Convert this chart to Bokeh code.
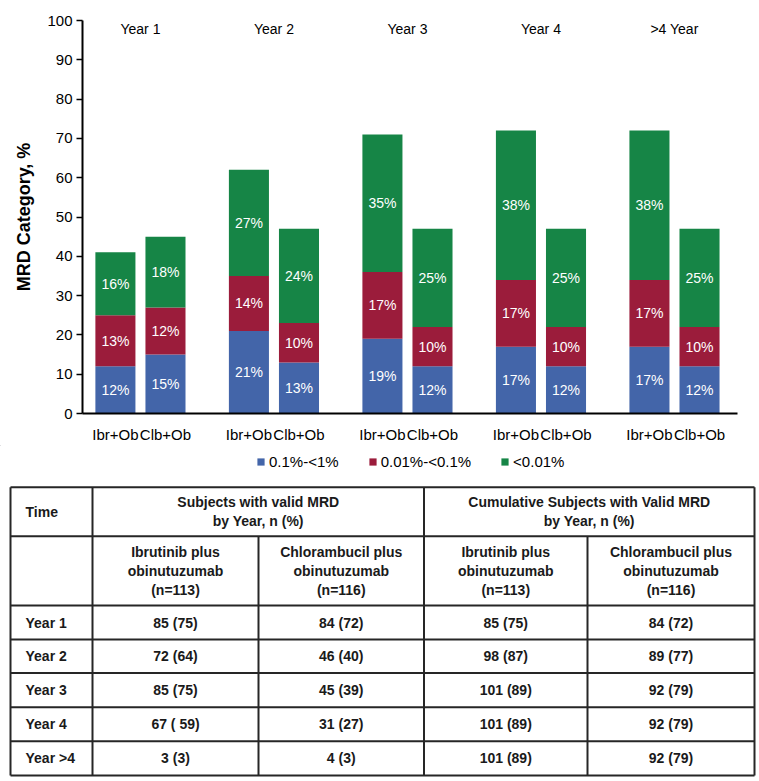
import numpy as np
from bokeh.plotting import figure
from bokeh.models import (ColumnDataSource, Range1d, FixedTicker, Legend, LegendItem)
from bokeh.transform import dodge
from bokeh.core.properties import value
from bokeh.embed import file_html
from bokeh.resources import INLINE

# ---------------- data ----------------
years = ["Year 1", "Year 2", "Year 3", "Year 4", ">4 Year"]
arms = ["Ibr+Ob", "Clb+Ob"]
categories = ["0.1%-<1%", "0.01%-<0.1%", "<0.01%"]

ibr_low = [12, 21, 19, 17, 17]    # 0.1%-<1%
ibr_mid = [13, 14, 17, 17, 17]    # 0.01%-<0.1%
ibr_high = [16, 27, 35, 38, 38]   # <0.01%
clb_low = [15, 13, 12, 12, 12]
clb_mid = [12, 10, 10, 10, 10]
clb_high = [18, 24, 25, 25, 25]

y_ticks = [0, 10, 20, 30, 40, 50, 60, 70, 80, 90, 100]

table_time_header = "Time"
table_group_headers = ["Subjects with valid MRD\nby Year, n (%)",
                       "Cumulative Subjects with Valid MRD\nby Year, n (%)"]
table_arm_headers = ["Ibrutinib plus\nobinutuzumab\n(n=113)",
                     "Chlorambucil plus\nobinutuzumab\n(n=116)",
                     "Ibrutinib plus\nobinutuzumab\n(n=113)",
                     "Chlorambucil plus\nobinutuzumab\n(n=116)"]
table_rows = ["Year 1", "Year 2", "Year 3", "Year 4", "Year >4"]
ibr_valid = ["85 (75)", "72 (64)", "85 (75)", "67 ( 59)", "3 (3)"]
clb_valid = ["84 (72)", "46 (40)", "45 (39)", "31 (27)", "4 (3)"]
ibr_cum = ["85 (75)", "98 (87)", "101 (89)", "101 (89)", "101 (89)"]
clb_cum = ["84 (72)", "89 (77)", "92 (79)", "92 (79)", "92 (79)"]

# ---------------- styles ----------------
COLORS = ["#4365A9", "#9B1C3B", "#168546"]
FONT = "Liberation Sans"
W = 759
CHART_H = 445
TABLE_H = 335
OFF = 0.1875   # dodge of each arm from group centre
BW = 0.30      # bar width (group units)

# ---------------- chart ----------------
p = figure(width=W, height=CHART_H, x_range=Range1d(-0.434, 4.472), y_range=Range1d(0, 100),
           output_backend="svg", toolbar_location=None,
           min_border_left=82, min_border_right=22, min_border_top=20, min_border_bottom=28)
p.outline_line_color = None
p.grid.visible = False

groups = list(range(len(years)))
src_ibr = ColumnDataSource(dict(x=groups, low=ibr_low, mid=ibr_mid, high=ibr_high))
src_clb = ColumnDataSource(dict(x=groups, low=clb_low, mid=clb_mid, high=clb_high))
stack = ["low", "mid", "high"]
r_ibr = p.vbar_stack(stack, x=dodge("x", -OFF), width=BW, color=COLORS, line_color=None, source=src_ibr)
r_clb = p.vbar_stack(stack, x=dodge("x", OFF), width=BW, color=COLORS, line_color=None, source=src_clb)

# percentage labels at segment centres
lx, ly, lt = [], [], []
for segs, off in (((ibr_low, ibr_mid, ibr_high), -OFF), ((clb_low, clb_mid, clb_high), OFF)):
    for g in groups:
        base = 0
        for seg in segs:
            v = seg[g]
            lx.append(g + off)
            ly.append(base + v / 2)
            lt.append(f"{v}%")
            base += v
p.text(x="x", y="y", text="t", source=ColumnDataSource(dict(x=lx, y=ly, t=lt)),
       text_color="white", text_font=value(FONT), text_font_size="14px",
       text_align="center", text_baseline="middle")

# year headers along the top
p.text(x="x", y=100, text="t", source=ColumnDataSource(dict(x=groups, t=years)),
       text_color="black", text_font=value(FONT), text_font_size="14px",
       text_align="center", text_baseline="top")

# axes
xa = p.xaxis[0]
xa.ticker = FixedTicker(ticks=[g + o for g in groups for o in (-OFF, OFF)])
overrides = {}
for g in groups:
    overrides[g - OFF] = arms[0]
    overrides[g + OFF] = arms[1]
xa.major_label_overrides = overrides
xa.major_tick_line_color = None
xa.minor_tick_line_color = None
xa.axis_line_width = 2
xa.axis_line_color = "black"
xa.major_label_text_font = FONT
xa.major_label_text_font_size = "15px"
xa.major_label_text_color = "black"
xa.major_label_standoff = 6

ya = p.yaxis[0]
ya.ticker = FixedTicker(ticks=y_ticks)
ya.major_tick_out = 6
ya.major_tick_in = 0
ya.major_tick_line_width = 1.5
ya.major_tick_line_color = "black"
ya.minor_tick_line_color = None
ya.axis_line_width = 2
ya.axis_line_color = "black"
ya.major_label_text_font = FONT
ya.major_label_text_font_size = "15px"
ya.major_label_text_color = "black"
ya.major_label_standoff = 4
ya.axis_label = "MRD Category, %"
ya.axis_label_text_font = FONT
ya.axis_label_text_font_style = "bold"
ya.axis_label_text_font_size = "18px"
ya.axis_label_text_color = "black"
ya.axis_label_standoff = 10

# ---------------- table (with the chart legend on top) ----------------
T_TOP = CHART_H
t = figure(width=W, height=TABLE_H, x_range=Range1d(0, W), y_range=Range1d(T_TOP + TABLE_H, T_TOP),
           output_backend="svg", toolbar_location=None, min_border=0,
           x_axis_location=None, y_axis_location=None)
t.outline_line_color = None
t.grid.visible = False

# legend swatches: zero-height bars that only carry the segment fill colours
swatches = [t.vbar(x=[0], top=[0], bottom=[0], width=1, fill_color=c, line_color=None) for c in COLORS]
legend = Legend(items=[LegendItem(label=c, renderers=[swatches[i]], index=0) for i, c in enumerate(categories)],
                orientation="horizontal", location=(256, 310),
                glyph_width=9, glyph_height=9, label_standoff=4, spacing=29,
                label_text_font=FONT, label_text_font_size="15px", label_text_color="black",
                margin=0, padding=5, border_line_color=None, background_fill_alpha=0)
t.add_layout(legend, "center")

col_edges = [10, 92, 258, 423.5, 587, 754]
row_edges = [486.7, 535.7, 605, 639, 672.5, 706.7, 740.7, 775]
LINE = "#262626"
TXT = "#1a1a1a"

sx0, sy0, sx1, sy1 = [], [], [], []
for y in row_edges:
    sx0.append(col_edges[0]); sx1.append(col_edges[-1]); sy0.append(y); sy1.append(y)
for i, x in enumerate(col_edges):
    top = row_edges[1] if i in (2, 4) else row_edges[0]
    sx0.append(x); sx1.append(x); sy0.append(top); sy1.append(row_edges[-1])
t.segment(x0=sx0, y0=sy0, x1=sx1, y1=sy1, line_color=LINE, line_width=2)

def mid(a, b):
    return (a + b) / 2

tx, ty, tt, ta = [], [], [], []
LEFT_PAD = 15
tx.append(col_edges[0] + LEFT_PAD); ty.append(mid(row_edges[0], row_edges[1])); tt.append(table_time_header); ta.append("left")
tx.append(mid(col_edges[1], col_edges[3])); ty.append(mid(row_edges[0], row_edges[1])); tt.append(table_group_headers[0]); ta.append("center")
tx.append(mid(col_edges[3], col_edges[5])); ty.append(mid(row_edges[0], row_edges[1])); tt.append(table_group_headers[1]); ta.append("center")
for c in range(4):
    tx.append(mid(col_edges[c + 1], col_edges[c + 2])); ty.append(mid(row_edges[1], row_edges[2]))
    tt.append(table_arm_headers[c]); ta.append("center")
cols = [ibr_valid, clb_valid, ibr_cum, clb_cum]
for r, name in enumerate(table_rows):
    yc = mid(row_edges[r + 2], row_edges[r + 3])
    tx.append(col_edges[0] + LEFT_PAD); ty.append(yc); tt.append(name); ta.append("left")
    for c in range(4):
        tx.append(mid(col_edges[c + 1], col_edges[c + 2])); ty.append(yc); tt.append(cols[c][r]); ta.append("center")

t.text(x="x", y="y", text="t", text_align="a", source=ColumnDataSource(dict(x=tx, y=ty, t=tt, a=ta)),
       text_color=TXT, text_font=value(FONT), text_font_style="bold", text_font_size="14px",
       text_baseline="middle", text_line_height=1.2)

open("out.html", "w").write(file_html([p, t], INLINE))
